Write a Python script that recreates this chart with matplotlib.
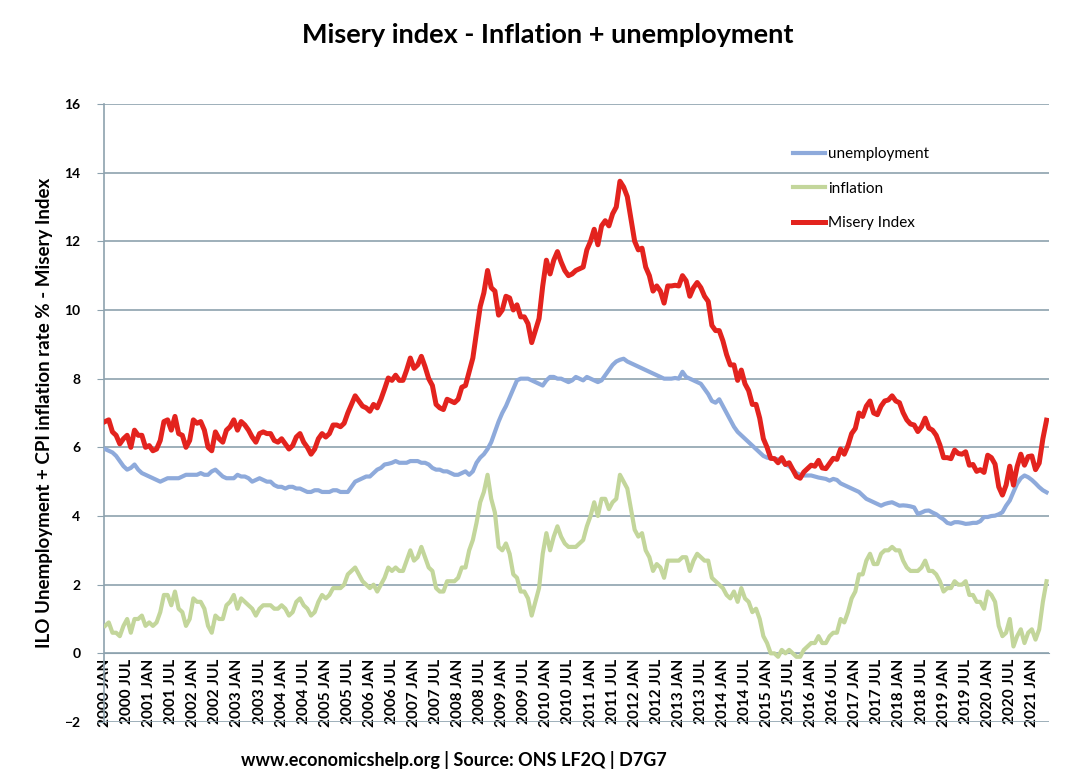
import numpy as np
import matplotlib
matplotlib.use("Agg")
import matplotlib.pyplot as plt

plt.rcParams['font.family'] = ['Lato', 'DejaVu Sans']

# monthly values, Jan 2000 - May 2021
unemployment = [
    5.95, 5.9, 5.85, 5.75, 5.6, 5.45, 5.35, 5.4, 5.5, 5.35, 5.25, 5.2,          # 2000
    5.15, 5.1, 5.05, 5.0, 5.05, 5.1, 5.1, 5.1, 5.1, 5.15, 5.2, 5.2,             # 2001
    5.2, 5.2, 5.25, 5.2, 5.2, 5.3, 5.35, 5.25, 5.15, 5.1, 5.1, 5.1,             # 2002
    5.2, 5.15, 5.15, 5.1, 5.0, 5.05, 5.1, 5.05, 5.0, 5.0, 4.9, 4.85,            # 2003
    4.85, 4.8, 4.85, 4.85, 4.8, 4.8, 4.75, 4.7, 4.7, 4.75, 4.75, 4.7,           # 2004
    4.7, 4.7, 4.75, 4.75, 4.7, 4.7, 4.7, 4.85, 5.0, 5.05, 5.1, 5.15,            # 2005
    5.15, 5.25, 5.35, 5.4, 5.5, 5.52, 5.55, 5.6, 5.55, 5.55, 5.55, 5.6,         # 2006
    5.6, 5.6, 5.55, 5.55, 5.5, 5.4, 5.35, 5.35, 5.3, 5.3, 5.25, 5.2,            # 2007
    5.2, 5.25, 5.3, 5.2, 5.3, 5.55, 5.7, 5.8, 5.95, 6.15, 6.45, 6.75,           # 2008
    7.0, 7.2, 7.45, 7.7, 7.95, 8.0, 8.0, 8.0, 7.95, 7.9, 7.85, 7.8,             # 2009
    7.95, 8.05, 8.05, 8.0, 8.0, 7.95, 7.9, 7.95, 8.05, 8.0, 7.95, 8.05,         # 2010
    8.0, 7.95, 7.9, 7.95, 8.1, 8.25, 8.4, 8.5, 8.55, 8.58, 8.5, 8.45,           # 2011
    8.4, 8.35, 8.3, 8.25, 8.2, 8.15, 8.1, 8.05, 8.0, 8.0, 8.0, 8.02,            # 2012
    8.0, 8.2, 8.05, 8.0, 7.95, 7.9, 7.85, 7.7, 7.55, 7.35, 7.3, 7.4,            # 2013
    7.2, 7.0, 6.8, 6.6, 6.45, 6.35, 6.25, 6.15, 6.05, 5.95, 5.85, 5.75,         # 2014
    5.7, 5.68, 5.67, 5.65, 5.6, 5.5, 5.45, 5.35, 5.25, 5.2, 5.18, 5.18,         # 2015
    5.18, 5.15, 5.12, 5.1, 5.08, 5.03, 5.08, 5.05, 4.95, 4.9, 4.85, 4.8,        # 2016
    4.75, 4.7, 4.6, 4.5, 4.45, 4.4, 4.35, 4.3, 4.35, 4.38, 4.4, 4.35,           # 2017
    4.3, 4.31, 4.3, 4.28, 4.25, 4.06, 4.1, 4.15, 4.16, 4.1, 4.05, 3.97,         # 2018
    3.9, 3.8, 3.77, 3.82, 3.82, 3.8, 3.77, 3.78, 3.8, 3.8, 3.85, 3.97,          # 2019
    3.97, 4.0, 4.01, 4.05, 4.11, 4.3, 4.45, 4.7, 4.94, 5.1, 5.18, 5.13,         # 2020
    5.05, 4.95, 4.84, 4.75, 4.69,                                               # 2021
]

inflation = [
    0.8, 0.9, 0.6, 0.6, 0.5, 0.8, 1.0, 0.6, 1.0, 1.0, 1.1, 0.8,
    0.9, 0.8, 0.9, 1.2, 1.7, 1.7, 1.4, 1.8, 1.3, 1.2, 0.8, 1.0,
    1.6, 1.5, 1.5, 1.3, 0.8, 0.6, 1.1, 1.0, 1.0, 1.4, 1.5, 1.7,
    1.3, 1.6, 1.5, 1.4, 1.3, 1.1, 1.3, 1.4, 1.4, 1.4, 1.3, 1.3,
    1.4, 1.3, 1.1, 1.2, 1.5, 1.6, 1.4, 1.3, 1.1, 1.2, 1.5, 1.7,
    1.6, 1.7, 1.9, 1.9, 1.9, 2.0, 2.3, 2.4, 2.5, 2.3, 2.1, 2.0,
    1.9, 2.0, 1.8, 2.0, 2.2, 2.5, 2.4, 2.5, 2.4, 2.4, 2.7, 3.0,
    2.7, 2.8, 3.1, 2.8, 2.5, 2.4, 1.9, 1.8, 1.8, 2.1, 2.1, 2.1,
    2.2, 2.5, 2.5, 3.0, 3.3, 3.8, 4.4, 4.7, 5.2, 4.5, 4.1, 3.1,
    3.0, 3.2, 2.9, 2.3, 2.2, 1.8, 1.8, 1.6, 1.1, 1.5, 1.9, 2.9,
    3.5, 3.0, 3.4, 3.7, 3.4, 3.2, 3.1, 3.1, 3.1, 3.2, 3.3, 3.7,
    4.0, 4.4, 4.0, 4.5, 4.5, 4.2, 4.4, 4.5, 5.2, 5.0, 4.8, 4.2,
    3.6, 3.4, 3.5, 3.0, 2.8, 2.4, 2.6, 2.5, 2.2, 2.7, 2.7, 2.7,
    2.7, 2.8, 2.8, 2.4, 2.7, 2.9, 2.8, 2.7, 2.7, 2.2, 2.1, 2.0,
    1.9, 1.7, 1.6, 1.8, 1.5, 1.9, 1.6, 1.5, 1.2, 1.3, 1.0, 0.5,
    0.3, 0.0, 0.0, -0.1, 0.1, 0.0, 0.1, 0.0, -0.1, -0.1, 0.1, 0.2,
    0.3, 0.3, 0.5, 0.3, 0.3, 0.5, 0.6, 0.6, 1.0, 0.9, 1.2, 1.6,
    1.8, 2.3, 2.3, 2.7, 2.9, 2.6, 2.6, 2.9, 3.0, 3.0, 3.1, 3.0,
    3.0, 2.7, 2.5, 2.4, 2.4, 2.4, 2.5, 2.7, 2.4, 2.4, 2.3, 2.1,
    1.8, 1.9, 1.9, 2.1, 2.0, 2.0, 2.1, 1.7, 1.7, 1.5, 1.5, 1.3,
    1.8, 1.7, 1.5, 0.8, 0.5, 0.6, 1.0, 0.2, 0.5, 0.7, 0.3, 0.6,
    0.7, 0.4, 0.7, 1.5, 2.1,
]

misery = [
    6.75, 6.8, 6.45, 6.35, 6.1, 6.25, 6.35, 6.0, 6.5, 6.35, 6.35, 6.0,
    6.05, 5.9, 5.95, 6.2, 6.75, 6.8, 6.5, 6.9, 6.4, 6.35, 6.0, 6.2,
    6.8, 6.7, 6.75, 6.5, 6.0, 5.9, 6.45, 6.25, 6.15, 6.5, 6.6, 6.8,
    6.5, 6.75, 6.65, 6.5, 6.3, 6.15, 6.4, 6.45, 6.4, 6.4, 6.2, 6.15,
    6.25, 6.1, 5.95, 6.05, 6.3, 6.4, 6.15, 6.0, 5.8, 5.95, 6.25, 6.4,
    6.3, 6.4, 6.65, 6.65, 6.6, 6.7, 7.0, 7.25, 7.5, 7.35, 7.2, 7.15,
    7.05, 7.25, 7.15, 7.4, 7.7, 8.02, 7.95, 8.1, 7.95, 7.95, 8.25, 8.6,
    8.3, 8.4, 8.65, 8.35, 8.0, 7.8, 7.25, 7.15, 7.1, 7.4, 7.35, 7.3,
    7.4, 7.75, 7.8, 8.2, 8.6, 9.35, 10.1, 10.5, 11.15, 10.65, 10.55, 9.85,
    10.0, 10.4, 10.35, 10.0, 10.15, 9.8, 9.8, 9.6, 9.05, 9.4, 9.75, 10.7,
    11.45, 11.05, 11.45, 11.7, 11.4, 11.15, 11.0, 11.05, 11.15, 11.2, 11.25, 11.75,
    12.0, 12.35, 11.9, 12.45, 12.6, 12.45, 12.8, 13.0, 13.75, 13.58, 13.3, 12.65,
    12.0, 11.75, 11.8, 11.25, 11.0, 10.55, 10.7, 10.55, 10.2, 10.7, 10.7, 10.72,
    10.7, 11.0, 10.85, 10.4, 10.65, 10.8, 10.65, 10.4, 10.25, 9.55, 9.4, 9.4,
    9.1, 8.7, 8.4, 8.4, 7.95, 8.25, 7.85, 7.65, 7.25, 7.25, 6.85, 6.25,
    6.0, 5.68, 5.67, 5.55, 5.7, 5.5, 5.55, 5.35, 5.15, 5.1, 5.28, 5.38,
    5.48, 5.45, 5.62, 5.4, 5.38, 5.53, 5.68, 5.65, 5.95, 5.8, 6.05, 6.4,
    6.55, 7.0, 6.9, 7.2, 7.35, 7.0, 6.95, 7.2, 7.35, 7.38, 7.5, 7.35,
    7.3, 7.01, 6.8, 6.68, 6.65, 6.46, 6.6, 6.85, 6.56, 6.5, 6.35, 6.07,
    5.7, 5.7, 5.67, 5.92, 5.82, 5.8, 5.87, 5.48, 5.5, 5.3, 5.35, 5.27,
    5.77, 5.7, 5.51, 4.85, 4.61, 4.9, 5.45, 4.9, 5.44, 5.8, 5.48, 5.73,
    5.75, 5.35, 5.54, 6.25, 6.79,
]

tick_labels = [f"{y} {m}" for y in range(2000, 2022) for m in ("JAN", "JUL")][:43]

x = np.arange(len(misery))

fig = plt.figure(figsize=(10.72, 7.69), dpi=100)
ax = fig.add_axes([0.097, 0.0611, 0.882, 0.8037])

grid_col = '#8DA2AE'
ax.plot(x, unemployment, color='#8EAADB', lw=3.0, label='unemployment', zorder=3)
ax.plot(x, inflation, color='#C3D69B', lw=3.0, label='inflation', zorder=3)
ax.plot(x, misery, color='#E3231E', lw=3.6, label='Misery Index', zorder=4)

# spine position first: moving it resets the tick settings
for s in ('top', 'right'):
    ax.spines[s].set_visible(False)
ax.spines['bottom'].set_position(('data', 0))
ax.spines['bottom'].set_color(grid_col)
ax.spines['left'].set_color(grid_col)
ax.spines['left'].set_linewidth(1.2)

ax.set_ylim(-2, 16)
ax.set_yticks(range(-2, 17, 2))
ax.set_xlim(-0.3, 256.8)
ax.set_xticks(range(0, 253, 6))
ax.set_xticklabels(tick_labels, rotation=90, fontsize=11, fontweight='bold')
ax.tick_params(axis='x', length=0, pad=4)
ax.tick_params(axis='y', length=5, color=grid_col, labelsize=10, pad=12)
for t in ax.get_yticklabels():
    t.set_fontweight('bold')

ax.grid(axis='y', color=grid_col, lw=1.2)
ax.set_axisbelow(True)

ax.set_ylabel('ILO Unemployment + CPI inflation rate % - Misery Index',
              fontsize=13.5, fontweight='bold', labelpad=8)

ax.legend(loc='upper left', bbox_to_anchor=(0.7397, 0.8088), bbox_transform=fig.transFigure,
          frameon=False, fontsize=11, handlelength=2.1, handletextpad=0.2,
          labelspacing=1.35, borderpad=0, borderaxespad=0)

fig.text(0.511, 0.955, 'Misery index - Inflation + unemployment', ha='center', va='center',
         fontsize=19.5, fontweight='bold')
fig.text(0.423, 0.012, 'www.economicshelp.org | Source: ONS LF2Q | D7G7', ha='center', va='center',
         fontsize=13, fontweight='bold')

fig.savefig('out.png', dpi=100)
